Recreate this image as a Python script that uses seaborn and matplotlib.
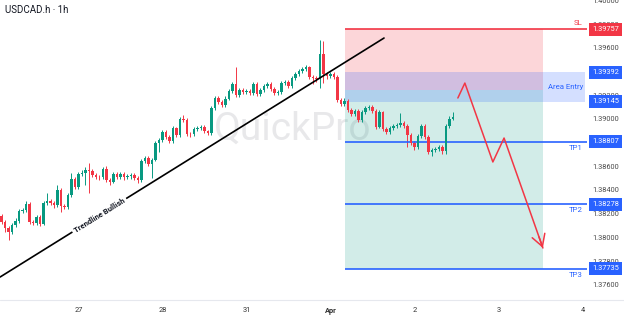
import numpy as np
import pandas as pd
import matplotlib
matplotlib.use("Agg")
import matplotlib.pyplot as plt
from matplotlib.lines import Line2D
from matplotlib.transforms import blended_transform_factory
import seaborn as sns

# ---------------- data ----------------
FIRST_OPEN = 1.38180
CLOSE = [1.38129, 1.38078, 1.38045, 1.38104, 1.38138, 1.38222, 1.38231, 1.38281, 1.38129, 1.38121,
         1.38172, 1.38112, 1.38290, 1.38307, 1.38290, 1.38273, 1.38399, 1.38264, 1.38256, 1.38357,
         1.38492, 1.38425, 1.38534, 1.38543, 1.38568, 1.38560, 1.38524, 1.38508, 1.38505, 1.38577,
         1.38484, 1.38468, 1.38534, 1.38508, 1.38534, 1.38508, 1.38517, 1.38524, 1.38500, 1.38484,
         1.38644, 1.38670, 1.38619, 1.38652, 1.38796, 1.38821, 1.38889, 1.38847, 1.38813, 1.38923,
         1.38864, 1.38999, 1.38990, 1.38872, 1.38868, 1.38914, 1.38923, 1.38931, 1.38897, 1.38881,
         1.39091, 1.39176, 1.39142, 1.39117, 1.39170, 1.39235, 1.39294, 1.39201, 1.39243, 1.39227,
         1.39232, 1.39218, 1.39294, 1.39210, 1.39243, 1.39277, 1.39294, 1.39252, 1.39218, 1.39227,
         1.39302, 1.39311, 1.39277, 1.39345, 1.39378, 1.39404, 1.39421, 1.39438, 1.39353, 1.39345,
         1.39336, 1.39547, 1.39378, 1.39361, 1.39378, 1.39353, 1.39159, 1.39125, 1.39151, 1.39075,
         1.39041, 1.39066, 1.38990, 1.39058, 1.39091, 1.39100, 1.39066, 1.38931, 1.39058, 1.38914,
         1.38889, 1.38923, 1.38940, 1.38948, 1.38965, 1.38940, 1.38864, 1.38796, 1.38763, 1.38855,
         1.38940, 1.38847, 1.38720, 1.38737, 1.38746, 1.38763, 1.38729, 1.38940, 1.38999, 1.39015]
HIGH = [1.38200, 1.38150, 1.38095, 1.38120, 1.38160, 1.38240, 1.38250, 1.38310, 1.38300, 1.38145,
        1.38190, 1.38190, 1.38305, 1.38374, 1.38325, 1.38305, 1.38441, 1.38415, 1.38285, 1.38375,
        1.38543, 1.38510, 1.38555, 1.38565, 1.38590, 1.38627, 1.38580, 1.38540, 1.38525, 1.38595,
        1.38600, 1.38500, 1.38550, 1.38550, 1.38550, 1.38548, 1.38535, 1.38545, 1.38540, 1.38515,
        1.38660, 1.38690, 1.38685, 1.38670, 1.38815, 1.38840, 1.38905, 1.38905, 1.38865, 1.38940,
        1.38935, 1.39015, 1.39030, 1.39005, 1.38890, 1.38930, 1.38940, 1.38950, 1.38950, 1.38910,
        1.39110, 1.39195, 1.39190, 1.39160, 1.39190, 1.39255, 1.39315, 1.39438, 1.39260, 1.39260,
        1.39250, 1.39250, 1.39310, 1.39310, 1.39260, 1.39295, 1.39315, 1.39310, 1.39265, 1.39245,
        1.39320, 1.39330, 1.39325, 1.39360, 1.39395, 1.39420, 1.39440, 1.39455, 1.39450, 1.39370,
        1.39360, 1.39665, 1.39657, 1.39395, 1.39395, 1.39395, 1.39370, 1.39175, 1.39176, 1.39165,
        1.39090, 1.39085, 1.39080, 1.39075, 1.39110, 1.39120, 1.39115, 1.39080, 1.39075, 1.39070,
        1.38930, 1.38940, 1.38960, 1.38965, 1.39049, 1.38985, 1.38955, 1.38880, 1.38815, 1.38870,
        1.38960, 1.38955, 1.38860, 1.38755, 1.38765, 1.38780, 1.38780, 1.38960, 1.39020, 1.39058]
LOW = [1.38110, 1.38045, 1.37977, 1.38030, 1.38090, 1.38125, 1.38205, 1.38215, 1.38110, 1.38100,
       1.38105, 1.38095, 1.38100, 1.38275, 1.38270, 1.38250, 1.38260, 1.38214, 1.38235, 1.38240,
       1.38340, 1.38405, 1.38410, 1.38515, 1.38440, 1.38374, 1.38505, 1.38490, 1.38485, 1.38490,
       1.38465, 1.38445, 1.38455, 1.38490, 1.38495, 1.38485, 1.38490, 1.38495, 1.38480, 1.38455,
       1.38470, 1.38625, 1.38600, 1.38500, 1.38640, 1.38720, 1.38805, 1.38830, 1.38795, 1.38795,
       1.38845, 1.38850, 1.38970, 1.38855, 1.38850, 1.38855, 1.38900, 1.38905, 1.38880, 1.38860,
       1.38865, 1.39075, 1.39125, 1.39100, 1.39100, 1.39155, 1.39220, 1.39185, 1.39185, 1.39210,
       1.39210, 1.39200, 1.39200, 1.39195, 1.39195, 1.39225, 1.39260, 1.39235, 1.39200, 1.39200,
       1.39210, 1.39285, 1.39260, 1.39260, 1.39330, 1.39360, 1.39390, 1.39405, 1.39335, 1.39290,
       1.39315, 1.39260, 1.39300, 1.39340, 1.39345, 1.39335, 1.39140, 1.39105, 1.39110, 1.39060,
       1.39020, 1.39025, 1.38975, 1.38975, 1.39040, 1.39075, 1.39050, 1.38915, 1.38920, 1.38895,
       1.38870, 1.38875, 1.38905, 1.38925, 1.38930, 1.38920, 1.38763, 1.38775, 1.38740, 1.38745,
       1.38840, 1.38830, 1.38700, 1.38687, 1.38720, 1.38730, 1.38705, 1.38700, 1.38925, 1.38990]

DAY_TICKS = [22, 46, 70, 94, 118, 142, 166]
DAY_LABELS = ["27", "28", "31", "Apr", "2", "3", "4"]
PRICE_TICKS = [1.376, 1.378, 1.380, 1.382, 1.384, 1.386, 1.388, 1.390, 1.392, 1.394, 1.396, 1.398, 1.400]

SL = 1.39757
ENTRY = 1.39243
AREA_TOP = 1.39392
AREA_BOT = 1.39145
TP1 = 1.38807
TP2 = 1.38278
TP3 = 1.37735

TREND_X = [-0.4, 109.3]
TREND_Y = [1.37665, 1.39682]
ARROW_X = [130.4, 132.4, 140.4, 143.6, 154.7]
ARROW_Y = [1.39176, 1.39302, 1.38636, 1.38838, 1.37910]

ZONE_X0, ZONE_X1, BAND_X1 = 98.1, 154.7, 166.7
XMIN, XMAX = -0.43, 167.3
YMIN, YMAX = 1.37471, 1.40003

# ---------------- style ----------------
sns.set_theme(style="white")
plt.rcParams['font.family'] = ['Roboto', 'DejaVu Sans']
UP = "#089981"
DOWN = "#f23645"
BLUE = "#2962ff"
TXT = "#131722"

fig = plt.figure(figsize=(6.24, 3.16), dpi=100)
fig.patch.set_facecolor("white")
ax = fig.add_axes([0, 16 / 316, 587 / 624, 300 / 316])
ax.set_facecolor("white")

opens = [FIRST_OPEN] + CLOSE[:-1]
df = pd.DataFrame({"t": np.arange(len(CLOSE)), "open": opens, "high": HIGH,
                   "low": LOW, "close": CLOSE})
df["color"] = np.where(df["close"] >= df["open"], UP, DOWN)

# zones
ax.fill_between([ZONE_X0, ZONE_X1], ENTRY, SL, color=DOWN, alpha=0.2, lw=0, zorder=0.5)
ax.fill_between([ZONE_X0, ZONE_X1], TP3, ENTRY, color=UP, alpha=0.18, lw=0, zorder=0.5)
ax.fill_between([ZONE_X0, BAND_X1], AREA_BOT, AREA_TOP, color=BLUE, alpha=0.2, lw=0, zorder=0.6)

# watermark
ax.text(83.3, 1.38914, "QuickPro", fontsize=28, color="#787b86", alpha=0.17,
        ha="center", va="center", zorder=0.4)

# candles
ax.vlines(df["t"], df["low"], df["high"], colors=df["color"], lw=0.7, zorder=2)
body = (df["close"] - df["open"]).abs().clip(lower=0.00003)
ax.bar(df["t"], body, bottom=np.minimum(df["open"], df["close"]), width=0.72,
       color=df["color"], linewidth=0, zorder=3)

# level lines
ax.hlines(SL, ZONE_X0, XMAX, color=DOWN, lw=1.2, zorder=2.5)
for lv in (TP1, TP2, TP3):
    ax.hlines(lv, ZONE_X0, XMAX, color=BLUE, lw=1.2, zorder=2.5)

# trendline
sns.lineplot(x=TREND_X, y=TREND_Y, color="black", lw=1.2, ax=ax, zorder=4)
ax.text(27.9, 1.38188, "Trendline Bullish", rotation=31.9, rotation_mode="anchor",
        ha="center", va="center", fontsize=5.6, fontweight="bold", color=TXT, zorder=5,
        bbox=dict(boxstyle="square,pad=0.3", fc="white", ec="none"))

# arrow path
sns.lineplot(x=ARROW_X, y=ARROW_Y, sort=False, color=DOWN, lw=1.1, ax=ax, zorder=4)
tail_x = ARROW_X[-2] * 0.1 + ARROW_X[-1] * 0.9
tail_y = ARROW_Y[-2] * 0.1 + ARROW_Y[-1] * 0.9
ax.annotate("", xy=(ARROW_X[-1], ARROW_Y[-1]), xytext=(tail_x, tail_y),
            arrowprops=dict(arrowstyle="->,head_length=0.7,head_width=0.4", color=DOWN,
                            lw=1.1, shrinkA=0, shrinkB=0), zorder=4)

# axes
ax.set_xlim(XMIN, XMAX)
ax.set_ylim(YMIN, YMAX)
ax.set_xlabel("")
ax.set_ylabel("")
for s in ax.spines.values():
    s.set_visible(False)
ax.yaxis.tick_right()
ax.set_yticks(PRICE_TICKS)
ax.set_yticklabels([f"{v:.5f}" for v in PRICE_TICKS])
ax.tick_params(axis="y", length=0, pad=3.6, labelsize=5.3, labelcolor="#4a4a4a")
ax.set_xticks(DAY_TICKS)
ax.set_xticklabels(DAY_LABELS)
ax.tick_params(axis="x", length=0, pad=5.0, labelsize=5.4, labelcolor="#333333")
ax.get_xticklabels()[3].set_fontweight("bold")
ax.grid(False)

fig.add_artist(Line2D([0, 1], [16 / 316, 16 / 316], color="#e6e8ee", lw=0.8))

trans = blended_transform_factory(ax.transAxes, ax.transData)
# price boxes
for lv, col in [(SL, DOWN), (AREA_TOP, BLUE), (AREA_BOT, BLUE), (TP1, BLUE), (TP2, BLUE), (TP3, BLUE)]:
    ax.text(592 / 587, lv, f"{lv:.5f}", transform=trans, ha="left", va="center",
            fontsize=5.3, color="white", zorder=8, clip_on=False,
            bbox=dict(boxstyle="square,pad=0.4", fc=col, ec="none"))

# level labels
ax.annotate("SL", xy=(0.993, SL), xycoords=trans, xytext=(0, 6), textcoords="offset pixels",
            ha="right", va="center", fontsize=5.6, color=DOWN, zorder=6)
ax.text(0.993, (AREA_TOP + AREA_BOT) / 2, "Area Entry", transform=trans, ha="right",
        va="center", fontsize=5.6, color=BLUE, zorder=6)
for lv, name in [(TP1, "TP1"), (TP2, "TP2"), (TP3, "TP3")]:
    ax.annotate(name, xy=(0.993, lv), xycoords=trans, xytext=(0, -6), textcoords="offset pixels",
                ha="right", va="center", fontsize=5.6, color=BLUE, zorder=6)

fig.text(5 / 624, 1 - 10 / 316, "USDCAD.h · 1h", fontsize=7, color=TXT, ha="left", va="center")

fig.savefig("out.png", dpi=100, facecolor="white")
